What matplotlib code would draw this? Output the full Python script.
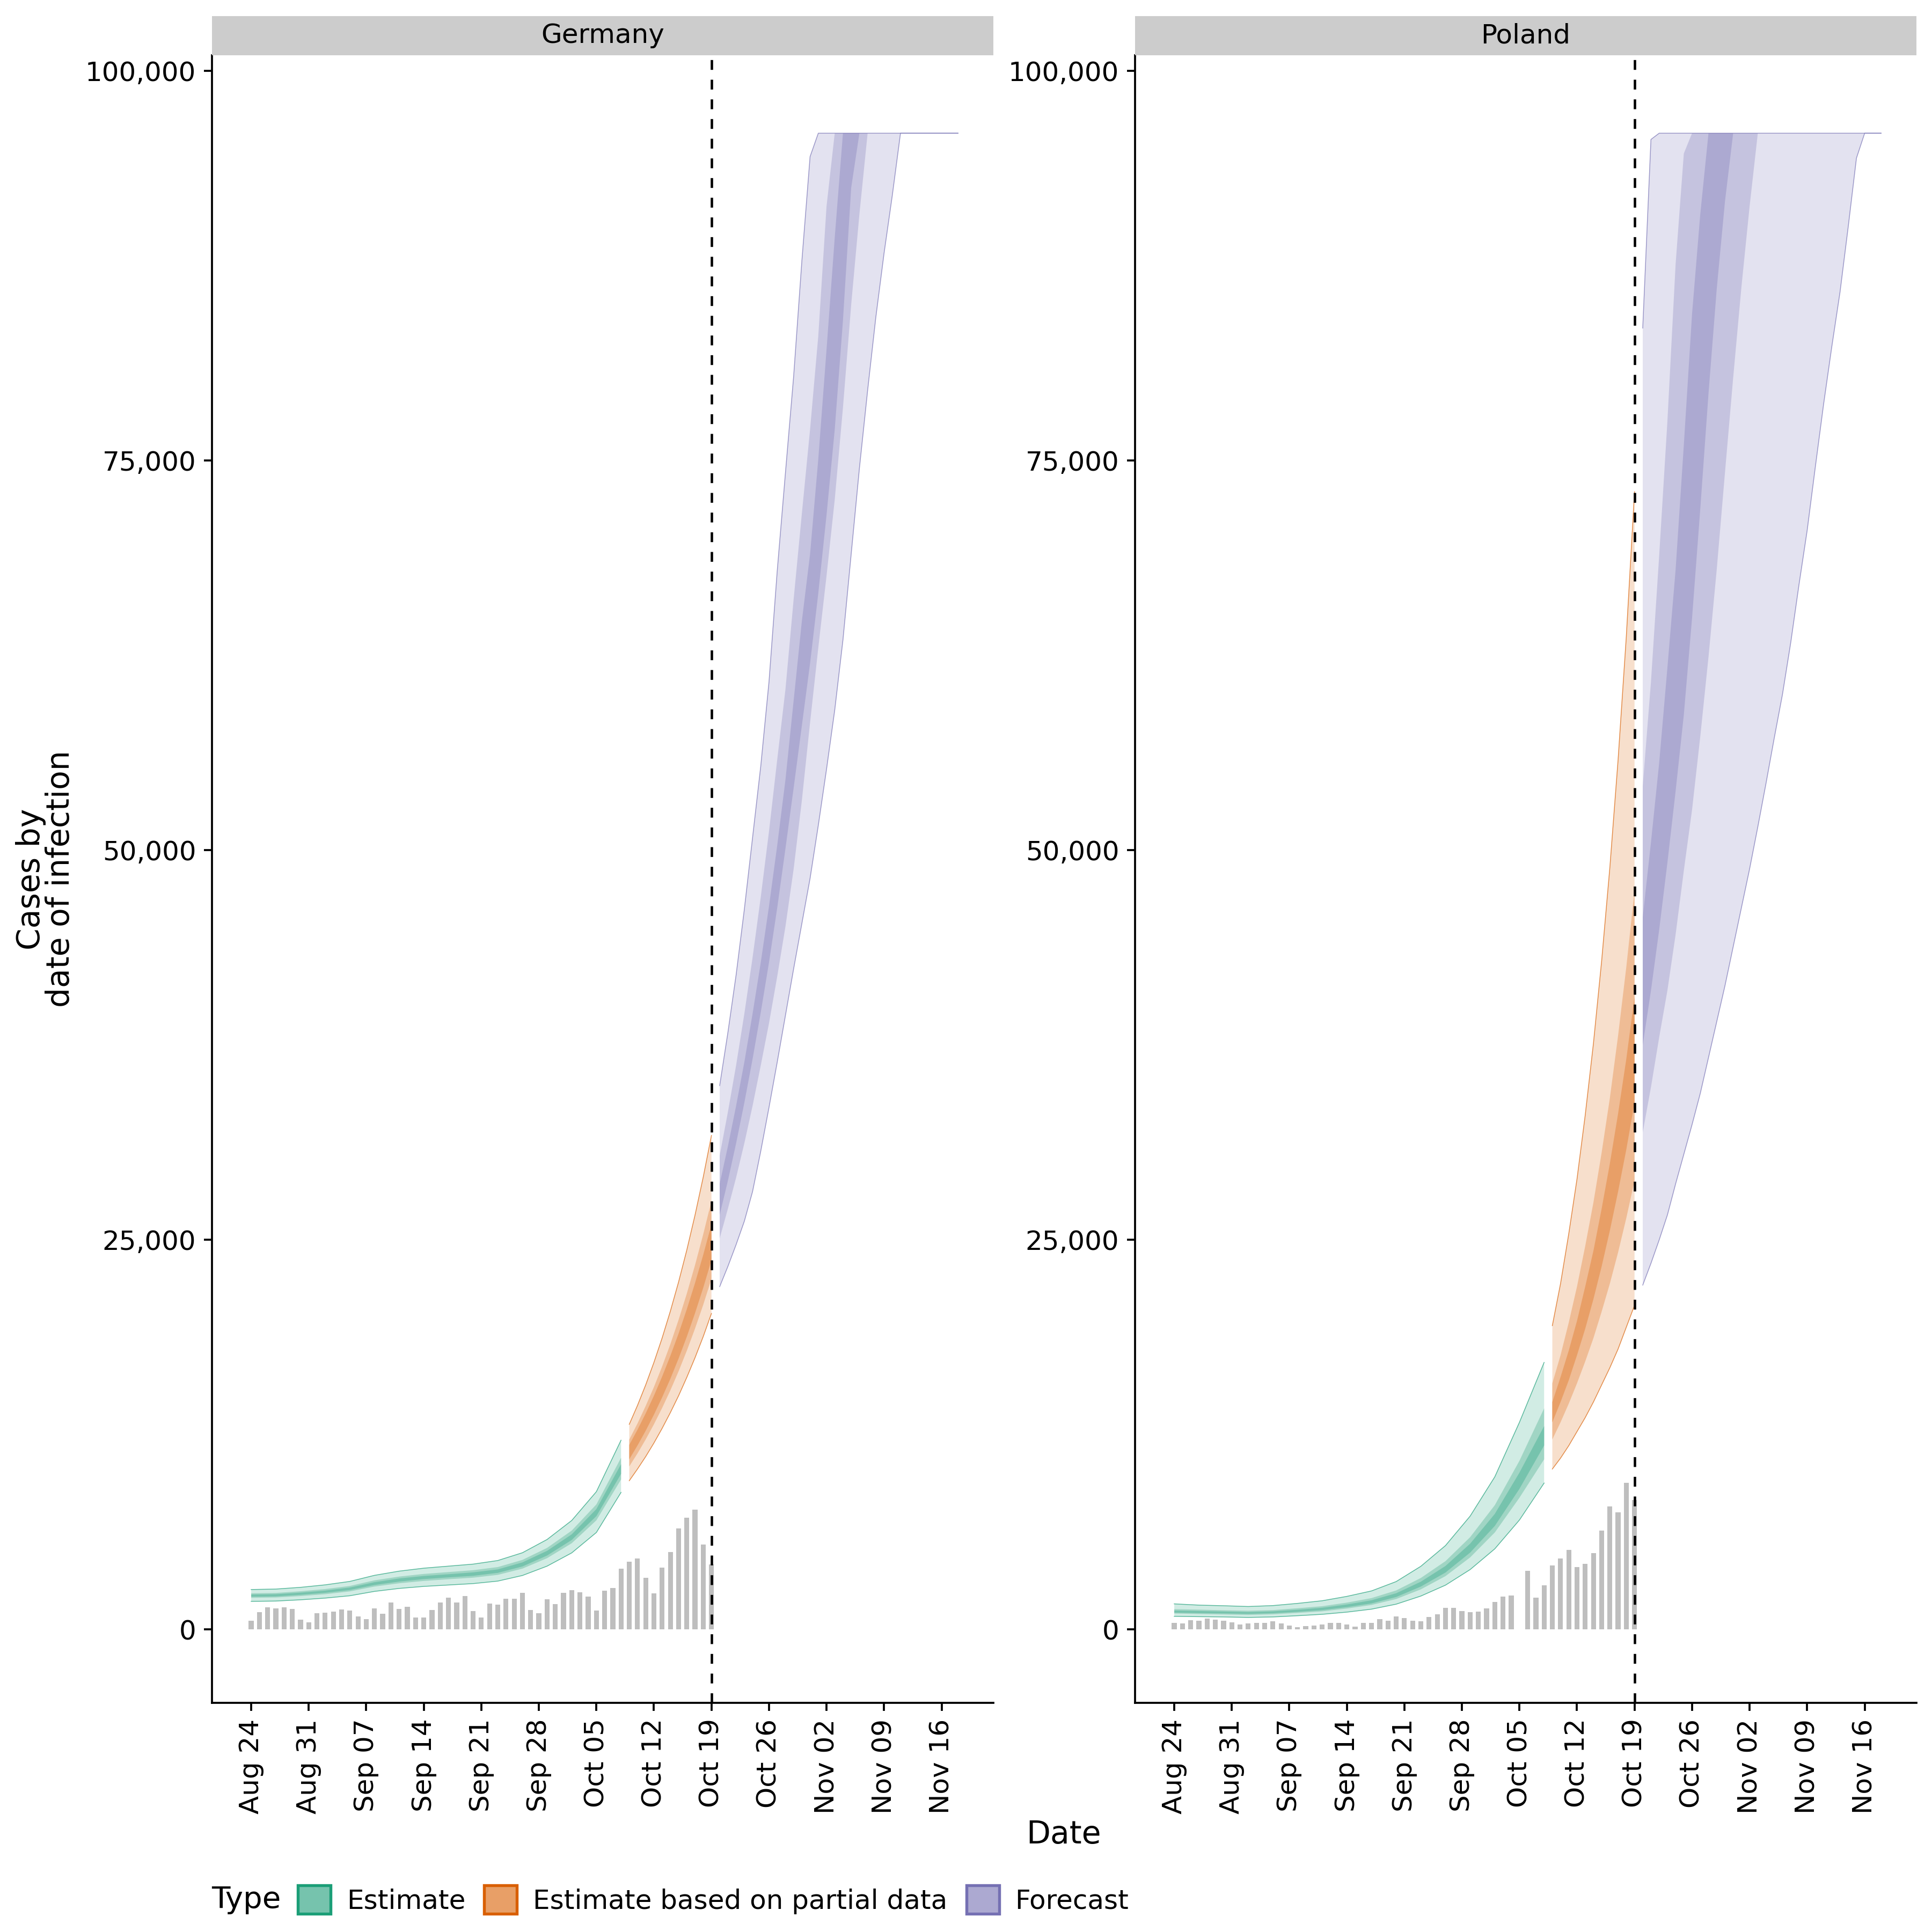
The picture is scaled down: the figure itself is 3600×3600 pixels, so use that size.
import numpy as np
import matplotlib
matplotlib.use("Agg")
import matplotlib.pyplot as plt
import matplotlib.dates as mdates
from matplotlib.patches import Patch
from matplotlib.ticker import FuncFormatter, FixedLocator

# ---- data ----
start_date = np.datetime64("2020-08-24")
report_day = 56  # Oct 19, last day of data

# reported cases by day, Aug 24 .. Oct 19
de_cases = [560, 1115, 1415, 1345, 1415, 1310, 620, 450, 1060, 1090,
            1150, 1290, 1220, 830, 655, 1345, 1010, 1725, 1320, 1470,
            780, 760, 1240, 1735, 2035, 1750, 2140, 1185, 760, 1655,
            1610, 1980, 1990, 2345, 1240, 1035, 1930, 1635, 2345, 2520,
            2405, 2115, 1220, 2485, 2670, 3900, 4360, 4565, 3325, 2310,
            3970, 4980, 6490, 7175, 7680, 5440, 4185]
pl_cases = [415, 380, 600, 560, 710, 620, 585, 460, 330, 380,
            425, 445, 525, 390, 275, 140, 240, 250, 330, 425,
            435, 330, 205, 435, 435, 675, 585, 835, 745, 585,
            550, 800, 965, 1400, 1400, 1190, 1135, 1155, 1375, 1790,
            2120, 2190, np.nan, 3770, 2065, 2830, 4115, 4560, 5110, 4000,
            4215, 4895, 6350, 7910, 7520, 9430, 8330]

# days after Aug 24 for each segment
est_days = [0, 3, 6, 9, 12, 15, 18, 21, 24, 27, 30, 33, 36, 39, 42, 45]
part_days = [46, 47, 48, 49, 50, 51, 52, 53, 54, 55, 56]
fc_days = list(range(57, 87))

# Germany
de_est_lo90 = [1810, 1830, 1910, 2020, 2170, 2450, 2640, 2770, 2860, 2950, 3110, 3470, 4070, 4920, 6230, 8800]
de_est_lo50 = [2040, 2060, 2150, 2270, 2450, 2760, 2970, 3120, 3230, 3330, 3510, 3910, 4580, 5540, 7010, 9630]
de_est_lo20 = [2110, 2130, 2230, 2360, 2540, 2860, 3080, 3240, 3350, 3450, 3640, 4050, 4750, 5750, 7280, 9990]
de_est_hi20 = [2250, 2270, 2370, 2500, 2700, 3040, 3280, 3440, 3550, 3670, 3860, 4310, 5050, 6110, 7730, 10610]
de_est_hi50 = [2330, 2350, 2460, 2600, 2800, 3160, 3400, 3570, 3690, 3810, 4010, 4470, 5240, 6350, 8030, 11020]
de_est_hi90 = [2570, 2600, 2710, 2870, 3090, 3480, 3750, 3940, 4070, 4200, 4430, 4930, 5780, 7000, 8850, 12150]

de_part_lo90 = [9550, 10300, 11100, 11970, 12910, 13920, 15000, 16180, 17440, 18800, 20280]
de_part_lo50 = [10470, 11300, 12200, 13170, 14220, 15350, 16570, 17890, 19310, 20840, 22500]
de_part_lo20 = [10930, 11810, 12760, 13790, 14900, 16090, 17390, 18790, 20300, 21930, 23700]
de_part_hi20 = [11850, 12820, 13870, 15000, 16230, 17560, 18990, 20550, 22230, 24040, 26000]
de_part_hi50 = [12190, 13220, 14350, 15560, 16880, 18310, 19870, 21550, 23380, 25360, 27500]
de_part_hi90 = [13170, 14380, 15700, 17140, 18710, 20430, 22300, 24350, 26590, 29030, 31700]

de_fc_lo90 = [22000, 23300, 24700, 26200, 28100, 30700, 33500, 36400, 39400, 42400, 45300,
              48200, 51600, 55200, 59000, 63500, 69000, 74500, 79500, 84200, 88300, 92000] + [96000] * 8
de_fc_lo50 = [25100, 27000, 29000, 31200, 33600, 36200, 38900, 41900, 45100, 48800, 53200,
              58200, 63000, 67600, 72500, 78400, 85000, 90800] + [96000] * 12
de_fc_lo20 = [26600, 28800, 31200, 33800, 36600, 39600, 42800, 46300, 50100, 54000, 58000,
              62000, 66500, 71500, 77000, 84000, 92500] + [96000] * 13
de_fc_hi20 = [28600, 31000, 33600, 36400, 39500, 42800, 46400, 50300, 54500, 59600, 64700,
              69000, 75100, 82100, 89300] + [96000] * 15
de_fc_hi50 = [30400, 33200, 36200, 39500, 43100, 47000, 51200, 55800, 60300, 66100, 71600,
              77000, 83000, 91300] + [96000] * 16
de_fc_hi90 = [34900, 38300, 42000, 46200, 50800, 55400, 60800, 67900, 74200, 80400, 87800,
              94500] + [96000] * 18

# Poland
pl_est_lo90 = [850, 830, 810, 780, 810, 890, 980, 1120, 1310, 1630, 2150, 2850, 3850, 5180, 7030, 9400]
pl_est_lo50 = [1030, 1000, 970, 940, 980, 1070, 1170, 1350, 1580, 1960, 2580, 3430, 4630, 6230, 8460, 10920]
pl_est_lo20 = [1090, 1060, 1040, 1010, 1050, 1140, 1250, 1440, 1680, 2090, 2760, 3660, 4940, 6650, 9030, 11810]
pl_est_hi20 = [1220, 1190, 1160, 1120, 1170, 1270, 1400, 1610, 1880, 2330, 3070, 4080, 5510, 7420, 10070, 13050]
pl_est_hi50 = [1310, 1280, 1240, 1210, 1250, 1370, 1500, 1730, 2020, 2510, 3310, 4390, 5930, 7980, 10830, 14190]
pl_est_hi90 = [1650, 1570, 1530, 1480, 1540, 1680, 1850, 2130, 2480, 3080, 4060, 5390, 7280, 9800, 13300, 17140]

pl_part_lo90 = [10300, 11000, 11800, 12700, 13600, 14600, 15700, 16800, 18000, 19400, 20800]
pl_part_lo50 = [12200, 13300, 14500, 15800, 17200, 18700, 20400, 22200, 24200, 26400, 28800]
pl_part_lo20 = [13300, 14600, 16000, 17600, 19300, 21200, 23300, 25600, 28100, 30800, 33800]
pl_part_hi20 = [14600, 16200, 17900, 19800, 22000, 24300, 27000, 29900, 33100, 36600, 40600]
pl_part_hi50 = [15800, 17600, 19700, 22000, 24600, 27400, 30600, 34100, 38100, 42500, 47400]
pl_part_hi90 = [19500, 22200, 25400, 28900, 33000, 37600, 42900, 48900, 55800, 63700, 73000]

pl_fc_lo90 = [22100, 23500, 25000, 26600, 28600, 30500, 32400, 34400, 36700, 39000, 41300,
              43800, 46300, 48800, 51500, 54300, 57200, 60000, 63300, 67000, 70500, 74600,
              78600, 82300, 85800, 90000, 94400] + [96000] * 3
pl_fc_lo50 = [31900, 34800, 38000, 41000, 44600, 48700, 52600, 57300, 62400, 68000, 74200,
              80300, 86100, 91300] + [96000] * 16
pl_fc_lo20 = [37500, 41000, 44900, 49200, 53800, 58700, 64900, 71900, 79300, 86000, 91600] + [96000] * 19
pl_fc_hi20 = [45700, 50500, 55600, 61700, 68000, 76000, 84400, 90800] + [96000] * 22
pl_fc_hi50 = [54100, 60800, 68900, 77500, 87600, 94700] + [96000] * 24
pl_fc_hi90 = [83500, 95600] + [96000] * 28

type_labels = ["Estimate", "Estimate based on partial data", "Forecast"]
week_ticks = list(range(0, 85, 7))

# ---- styling ----
# Dark2 colours and their ribbon shades (alpha-stacked over white)
line_col = {"est": "#1B9E77", "part": "#D95F02", "fc": "#7570B3"}
shades = {
    "est": ["#D1ECE4", "#A0D5C4", "#76C3AD"],
    "part": ["#F7DFCC", "#EFBC95", "#E89F67"],
    "fc": ["#E3E2F0", "#C5C3DF", "#ACA9D1"],
}

plt.rcParams["font.family"] = ["DejaVu Sans"]
fig = plt.figure(figsize=(12, 12), dpi=300, facecolor="white")

base = mdates.date2num(start_date)
W = 3600.0


def fx(px):
    return px / W


def fy(py):
    return 1 - py / W


def draw_segment(ax, kind, days, lo90, lo50, lo20, hi20, hi50, hi90):
    x = base + np.array(days, dtype=float)
    cols = shades[kind]
    ax.fill_between(x, lo90, hi90, facecolor=cols[0], edgecolor="none", zorder=2)
    ax.fill_between(x, lo50, hi50, facecolor=cols[1], edgecolor="none", zorder=2.1)
    ax.fill_between(x, lo20, hi20, facecolor=cols[2], edgecolor="none", zorder=2.2)
    ax.plot(x, hi90, color=line_col[kind], lw=0.35, alpha=0.7, zorder=2.3)
    ax.plot(x, lo90, color=line_col[kind], lw=0.35, alpha=0.7, zorder=2.3)


def panel(left_px, name, cases, segs):
    ax = fig.add_axes([fx(left_px), fy(3173), fx(1456), fy(103) - fy(3173)])
    xd = base + np.arange(len(cases))
    ax.bar(xd, cases, width=0.6, color="#BEBEBE", zorder=1)
    for kind, days, arrs in segs:
        draw_segment(ax, kind, days, *arrs)
    ax.axvline(base + report_day, color="black", lw=1.1, linestyle=(0, (4, 4)), zorder=5)

    ax.set_xlim(base - 4.77, base + 90.3)
    ax.set_ylim(-4700, 101000)
    ax.xaxis.set_major_locator(FixedLocator([base + d for d in week_ticks]))
    ax.xaxis.set_major_formatter(mdates.DateFormatter("%b %d"))
    ax.set_yticks([0, 25000, 50000, 75000, 100000])
    ax.yaxis.set_major_formatter(FuncFormatter(lambda v, p: "{:,.0f}".format(v)))
    ax.tick_params(axis="both", direction="out", length=3.6, width=0.9,
                   labelsize=12, pad=3.5, colors="black")
    plt.setp(ax.get_xticklabels(), rotation=90, va="top", ha="center")
    for s in ["top", "right"]:
        ax.spines[s].set_visible(False)
    for s in ["left", "bottom"]:
        ax.spines[s].set_linewidth(0.9)

    strip = fig.add_axes([fx(left_px), fy(103), fx(1456), fy(30) - fy(103)])
    strip.set_facecolor("#CCCCCC")
    strip.set_xticks([])
    strip.set_yticks([])
    for s in strip.spines.values():
        s.set_visible(False)
    strip.text(0.5, 0.5, name, ha="center", va="center", fontsize=12,
               transform=strip.transAxes)
    return ax


panel(395, "Germany", de_cases, [
    ("est", est_days, (de_est_lo90, de_est_lo50, de_est_lo20, de_est_hi20, de_est_hi50, de_est_hi90)),
    ("part", part_days, (de_part_lo90, de_part_lo50, de_part_lo20, de_part_hi20, de_part_hi50, de_part_hi90)),
    ("fc", fc_days, (de_fc_lo90, de_fc_lo50, de_fc_lo20, de_fc_hi20, de_fc_hi50, de_fc_hi90)),
])
panel(2115, "Poland", pl_cases, [
    ("est", est_days, (pl_est_lo90, pl_est_lo50, pl_est_lo20, pl_est_hi20, pl_est_hi50, pl_est_hi90)),
    ("part", part_days, (pl_part_lo90, pl_part_lo50, pl_part_lo20, pl_part_hi20, pl_part_hi50, pl_part_hi90)),
    ("fc", fc_days, (pl_fc_lo90, pl_fc_lo50, pl_fc_lo20, pl_fc_hi20, pl_fc_hi50, pl_fc_hi90)),
])

# axis titles
fig.text(fx(85), fy(1638), "Cases by\ndate of infection", rotation=90, ha="center",
         va="center", fontsize=14, linespacing=0.95, multialignment="center")
fig.text(fx(1982), fy(3419), "Date", ha="center", va="center", fontsize=14)

# legend
fig.text(fx(394), fy(3540), "Type", ha="left", va="center", fontsize=13.5)
handles = [Patch(facecolor=shades[k][2], edgecolor=line_col[k], linewidth=1.3)
           for k in ["est", "part", "fc"]]
fig.legend(handles, type_labels, loc="center left", bbox_to_anchor=(fx(555), fy(3540)),
           ncol=3, frameon=False, fontsize=12, handlelength=1.22, handleheight=1.25,
           handletextpad=0.6, columnspacing=0.7, borderaxespad=0, borderpad=0)

fig.savefig("out.png", dpi=300, facecolor="white")
